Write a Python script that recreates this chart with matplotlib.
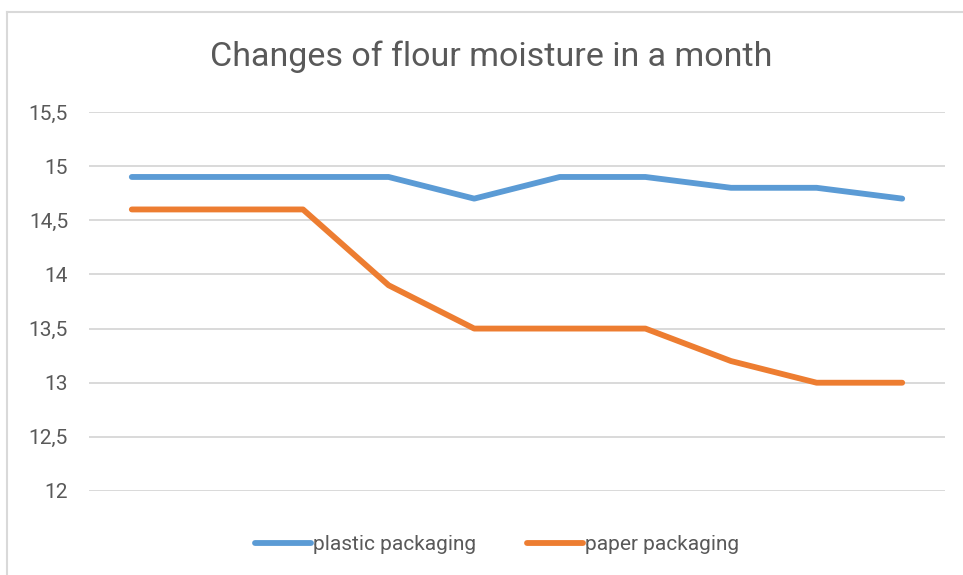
import matplotlib.pyplot as plt
from matplotlib.lines import Line2D
from matplotlib.ticker import FuncFormatter

days = list(range(1, 11))
plastic = [14.9, 14.9, 14.9, 14.9, 14.7, 14.9, 14.9, 14.8, 14.8, 14.7]
paper = [14.6, 14.6, 14.6, 13.9, 13.5, 13.5, 13.5, 13.2, 13.0, 13.0]
yticks = [12, 12.5, 13, 13.5, 14, 14.5, 15, 15.5]

plt.rcParams['font.family'] = ['Roboto', 'DejaVu Sans']
txt = '#595959'
grid = '#D9D9D9'

fig = plt.figure(figsize=(9.63, 5.75), dpi=100)
ax = fig.add_axes([89/963, 1 - 491/575, (945 - 89)/963, (491 - 112)/575])

x = list(range(len(days)))
ax.plot(x, plastic, color='#5B9BD5', lw=4.2, solid_capstyle='round', solid_joinstyle='round', label='plastic packaging')
ax.plot(x, paper, color='#ED7D31', lw=4.2, solid_capstyle='round', solid_joinstyle='round', label='paper packaging')

ax.set_xlim(-0.5, len(days) - 0.5)
ax.set_ylim(12, 15.5)
ax.set_yticks(yticks)
ax.yaxis.set_major_formatter(FuncFormatter(lambda v, p: ('%g' % v).replace('.', ',')))
ax.set_xticks([])
ax.grid(axis='y', color=grid, lw=1.4)
ax.set_axisbelow(True)
for s in ax.spines.values():
    s.set_visible(False)
ax.tick_params(axis='y', length=0, pad=15, labelsize=15, labelcolor=txt)

fig.text(491/963, 1 - 57/575, 'Changes of flour moisture in a month', ha='center', va='center',
         fontsize=24.5, color=txt)

ax.legend(loc='center', bbox_to_anchor=(497/963, 1 - 545/575), bbox_transform=fig.transFigure,
          ncol=2, frameon=False, fontsize=15, labelcolor=txt, handlelength=2.7,
          handletextpad=0.1, columnspacing=2.4)

# chart border
fig.add_artist(Line2D([7/963, 1], [1 - 12/575] * 2, transform=fig.transFigure, color=grid, lw=1.5))
fig.add_artist(Line2D([7/963] * 2, [0, 1 - 12/575], transform=fig.transFigure, color=grid, lw=1.5))

fig.savefig('out.png', dpi=100)
